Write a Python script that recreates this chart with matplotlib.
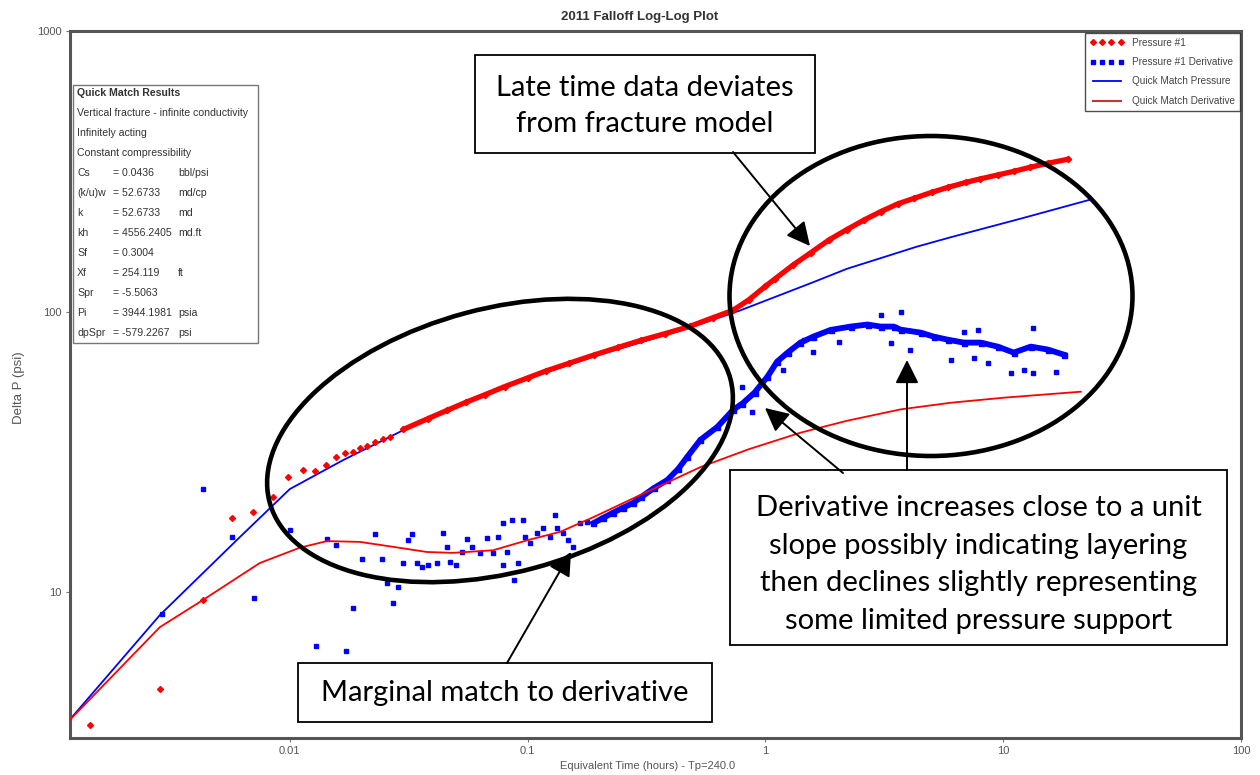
import matplotlib
matplotlib.use("Agg")
import matplotlib.pyplot as plt
from matplotlib.patches import Ellipse, Rectangle, FancyArrowPatch
from matplotlib.lines import Line2D
from matplotlib.ticker import FixedLocator, FixedFormatter, NullLocator

plt.rcParams['font.family'] = ['Liberation Sans Narrow', 'Liberation Sans', 'DejaVu Sans']

# ---------------- data ----------------
# Pressure #1 - early scattered points
pres_early_t = [0.00144, 0.00284, 0.0043, 0.0057, 0.00698, 0.00848, 0.0098, 0.01135, 0.01274,
                0.0142, 0.0156, 0.0171, 0.0184, 0.0197, 0.0211, 0.0228, 0.0246, 0.0264]
pres_early_p = [3.35, 4.51, 9.36, 18.4, 19.3, 21.8, 25.7, 27.3, 27.0,
                28.4, 30.3, 31.4, 31.6, 32.7, 33.2, 34.3, 35.1, 35.8]
# Pressure #1 - dense part
pres_t = [0.03, 0.038, 0.046, 0.055, 0.066, 0.08, 0.1, 0.12, 0.15, 0.19, 0.24, 0.3, 0.38, 0.48,
          0.6, 0.73, 0.85, 1.0, 1.1, 1.3, 1.55, 1.85, 2.2, 2.6, 3.05, 3.6, 4.2, 5.0, 5.84, 7.0,
          8.0, 9.5, 11.07, 13.0, 15.5, 18.7]
pres_p = [38.0, 41.5, 44.5, 47.5, 50.5, 54.0, 58.0, 61.5, 65.5, 70.0, 74.5, 79.0, 83.5, 88.5,
          95, 101, 110, 123, 131, 146, 162, 180, 196, 212, 227, 242, 253, 266, 277, 289,
          297, 307, 316, 327, 338, 349]

# Pressure #1 Derivative - scattered points
der_sc_t = [0.00289, 0.0043, 0.0057, 0.00706, 0.01, 0.01135, 0.01287, 0.0143, 0.0156, 0.0172,
            0.0184, 0.0201, 0.0228, 0.0244, 0.0256, 0.0272, 0.0285, 0.0299, 0.0314, 0.0327,
            0.0343, 0.036, 0.0381, 0.0416, 0.0441, 0.0458, 0.0472, 0.05, 0.053, 0.0556,
            0.0584, 0.0631, 0.0676, 0.0716, 0.0751, 0.0788, 0.0788, 0.082, 0.086, 0.0877,
            0.0912, 0.0957, 0.0976, 0.1024, 0.1096, 0.116, 0.1245, 0.1306, 0.133, 0.141,
            0.148, 0.1555, 0.166, 0.178,
            0.8, 0.882, 0.9, 1.19, 1.45, 1.59, 2.03, 3.05, 3.70, 3.36, 4.06, 6.01, 6.82,
            7.51, 7.81, 8.6, 10.76, 12.2, 13.4, 13.4, 16.6]
der_sc_p = [8.35, 23.3, 15.7, 9.5, 16.6, 5.4, 6.41, 15.5, 14.7, 6.16,
            8.77, 13.1, 16.1, 13.1, 10.8, 9.13, 10.4, 12.7, 15.3, 16.1,
            12.7, 12.3, 12.5, 12.7, 16.2, 14.5, 12.8, 12.5, 13.9, 15.5,
            14.5, 13.8, 15.6, 13.8, 15.7, 12.5, 17.6, 13.9, 18.1, 11.04,
            12.7, 18.1, 15.7, 15.0, 16.2, 16.9, 15.7, 18.8, 16.9, 16.2,
            15.3, 14.5, 17.6, 17.8,
            54.0, 43.9, 51.4, 62.0, 79.0, 72.0, 78.1, 97.5, 100.0, 77.5, 73.2, 67.4, 84.8,
            68.5, 86.2, 65.8, 60.6, 62.0, 87.7, 60.6, 61.1]
# Pressure #1 Derivative - dense band
der_t = [0.189, 0.208, 0.229, 0.252, 0.278, 0.30, 0.34, 0.387, 0.43, 0.47, 0.533, 0.628, 0.733,
         0.8, 0.9, 1.02, 1.12, 1.24, 1.404, 1.59, 1.88, 2.28, 2.69, 3.05, 3.46, 3.70, 4.5,
         5.1, 5.84, 6.82, 8.04, 9.48, 11.07, 13.06, 15.4, 18.0]
der_p = [17.6, 18.4, 19.2, 20.0, 20.8, 21.8, 23.5, 25.1, 27.5, 30.4, 34.9, 38.8, 44.7,
         47.0, 51.4, 58.6, 66.3, 71.4, 77.5, 81.4, 86.0, 88.4, 89.9, 88.4, 88.4, 86.2, 84.1,
         81.4, 79.4, 77.5, 77.5, 75.0, 71.4, 75.0, 73.2, 70.2]

# Quick match model curves
qm_pres_t = [0.00116, 0.00284, 0.00616, 0.01, 0.0167, 0.0291, 0.052, 0.1025, 0.189, 0.483,
             0.785, 1.58, 2.2, 3.05, 4.3, 6.01, 12.0, 23.4]
qm_pres_p = [3.43, 8.28, 15.7, 23.3, 29.5, 37.3, 47.0, 58.1, 69.1, 87.7,
             101, 127, 142, 155, 170, 184, 215, 251]
qm_der_t = [0.00116, 0.00284, 0.0043, 0.00748, 0.01102, 0.01432, 0.0197, 0.0272, 0.0377, 0.0486,
            0.0716, 0.0995, 0.137, 0.189, 0.298, 0.533, 0.85, 1.404, 2.2, 3.7, 6.0, 10.0, 21.2]
qm_der_p = [3.43, 7.5, 9.36, 12.7, 14.4, 15.2, 15.1, 14.5, 13.9, 13.8,
            14.1, 15.3, 16.4, 18.5, 22.2, 27.9, 32.3, 37.0, 40.8, 44.8, 47.3, 49.3, 51.8]

x_ticks = [0.01, 0.1, 1, 10, 100]
x_tick_labels = ['0.01', '0.1', '1', '10', '100']
y_ticks = [10, 100, 1000]
y_tick_labels = ['10', '100', '1000']

legend_labels = ['Pressure #1', 'Pressure #1 Derivative', 'Quick Match Pressure', 'Quick Match Derivative']

qm_title = 'Quick Match Results'
qm_lines = ['Vertical fracture - infinite conductivity', 'Infinitely acting', 'Constant compressibility']
qm_names = ['Cs', '(k/u)w', 'k', 'kh', 'Sf', 'Xf', 'Spr', 'Pi', 'dpSpr']
qm_values = ['= 0.0436', '= 52.6733', '= 52.6733', '= 4556.2405', '= 0.3004', '= 254.119',
             '= -5.5063', '= 3944.1981', '= -579.2267']
qm_units = ['bbl/psi', 'md/cp', 'md', 'md.ft', '', 'ft', '', 'psia', 'psi']

note_top = 'Late time data deviates\nfrom fracture model'
note_right = ('Derivative increases close to a unit\nslope possibly indicating layering\n'
              'then declines slightly representing\nsome limited pressure support')
note_bottom = 'Marginal match to derivative'

# ---------------- figure ----------------
W, H = 1260, 775
fig = plt.figure(figsize=(W / 100, H / 100), dpi=100)
fig.patch.set_facecolor('white')
ax = fig.add_axes([70 / W, 1 - 738 / H, (1241 - 70) / W, (738 - 31) / H])
ax.set_xscale('log')
ax.set_yscale('log')
ax.set_xlim(0.00119, 100)
ax.set_ylim(3.02, 1000)

ax.plot(qm_pres_t, qm_pres_p, color='blue', lw=1.3, zorder=2)
ax.plot(pres_early_t, pres_early_p, ls='none', marker='D', ms=3.0, color='red', mec='red', zorder=3)
ax.plot(pres_t, pres_p, color='red', lw=3.8, marker='D', ms=3.2, zorder=3, solid_capstyle='round')
ax.plot(der_sc_t, der_sc_p, ls='none', marker='s', ms=3.3, color='blue', mec='blue', zorder=3)
ax.plot(der_t, der_p, color='blue', lw=4.2, marker='s', ms=3.6, zorder=3)
ax.plot(qm_der_t, qm_der_p, color='red', lw=1.3, zorder=4)

ax.xaxis.set_major_locator(FixedLocator(x_ticks))
ax.xaxis.set_major_formatter(FixedFormatter(x_tick_labels))
ax.yaxis.set_major_locator(FixedLocator(y_ticks))
ax.yaxis.set_major_formatter(FixedFormatter(y_tick_labels))
ax.xaxis.set_minor_locator(NullLocator())
ax.yaxis.set_minor_locator(NullLocator())
ax.tick_params(axis='both', which='major', labelsize=8, labelcolor='#555555', color='#777777',
               length=3, width=0.8, direction='out', pad=3)
for s in ax.spines.values():
    s.set_color('#555555')
    s.set_linewidth(2.2)

handles = [Line2D([], [], color='red', marker='D', ls='none', ms=3),
           Line2D([], [], color='blue', marker='s', ls='none', ms=3),
           Line2D([], [], color='blue', lw=1.3),
           Line2D([], [], color='#cc3333', lw=1.5)]
leg = ax.legend(handles, legend_labels, loc='upper right', numpoints=4, fontsize=7.2,
                frameon=True, fancybox=False, edgecolor='#222222', borderaxespad=0.15,
                handlelength=3.4, labelcolor='#444444', borderpad=0.5, labelspacing=0.95)
leg.get_frame().set_linewidth(1.0)

fig.text(640 / W, 1 - 17 / H, '2011 Falloff Log-Log Plot', ha='center', va='center',
         fontsize=9.5, fontweight='bold', color='#333333')
fig.text(648 / W, 1 - 766 / H, 'Equivalent Time (hours) - Tp=240.0', ha='center', va='center',
         fontsize=8, color='#555555')
fig.text(19 / W, 1 - 388 / H, 'Delta P (psi)', ha='center', va='center', rotation=90,
         fontsize=9.5, color='#555555')

tr = fig.dpi_scale_trans


def P(x, y):
    return (x / 100, (H - y) / 100)


# Quick match results box
qfs = 7.6
fig.add_artist(Rectangle(P(73, 343), 185 / 100, 258 / 100, transform=tr, fill=True,
                         fc='white', ec='#777777', lw=1.0, zorder=5))
fig.text(*P(77, 93), qm_title, transform=tr, fontsize=qfs, fontweight='bold', va='center',
         color='#333333', zorder=6)
row_y = 113
for line in qm_lines:
    fig.text(*P(77, row_y), line, transform=tr, fontsize=qfs, va='center', color='#333333', zorder=6)
    row_y += 20
for name, val, unit in zip(qm_names, qm_values, qm_units):
    fig.text(*P(77, row_y), name, transform=tr, fontsize=qfs, va='center', color='#333333', zorder=6)
    fig.text(*P(113, row_y), val, transform=tr, fontsize=qfs, va='center', color='#333333', zorder=6)
    fig.text(*P(178, row_y), unit, transform=tr, fontsize=qfs, va='center', color='#333333', zorder=6)
    row_y += 20

# Ellipses
fig.add_artist(Ellipse(P(500, 440.5), 4.77, 2.64, angle=15, transform=tr, fill=False,
                       ec='black', lw=3.3, zorder=7))
fig.add_artist(Ellipse(P(931, 296), 4.03, 3.20, angle=0, transform=tr, fill=False,
                       ec='black', lw=3.3, zorder=7))

# Note boxes
note_font = ['Lato', 'DejaVu Sans']


def note_box(x0, y0, x1, y1, text, ls, dy):
    fig.add_artist(Rectangle(P(x0, y1), (x1 - x0) / 100, (y1 - y0) / 100, transform=tr,
                             fc='white', ec='black', lw=1.3, zorder=8))
    fig.text(*P((x0 + x1) / 2, (y0 + y1) / 2 + dy), text, transform=tr, ha='center', va='center',
             fontsize=21, family=note_font, linespacing=ls, color='black', zorder=9)


note_box(475, 55, 815, 153, note_top, 1.52, 2)
note_box(730, 470, 1227, 645, note_right, 1.56, 7)
note_box(298, 663, 712, 722, note_bottom, 1.2, 1)

# Arrows
for (xa, ya), (xb, yb) in [((733, 152), (810, 246)), ((843, 473), (765, 408)),
                           ((907, 470), (907, 360)), ((507, 663), (571, 552))]:
    fig.add_artist(FancyArrowPatch(P(xa, ya), P(xb, yb), transform=tr,
                                   arrowstyle='-|>,head_length=0.9,head_width=0.45',
                                   mutation_scale=16, color='black', lw=1.4, zorder=8,
                                   shrinkA=0, shrinkB=0))

fig.savefig('out.png', dpi=100)
